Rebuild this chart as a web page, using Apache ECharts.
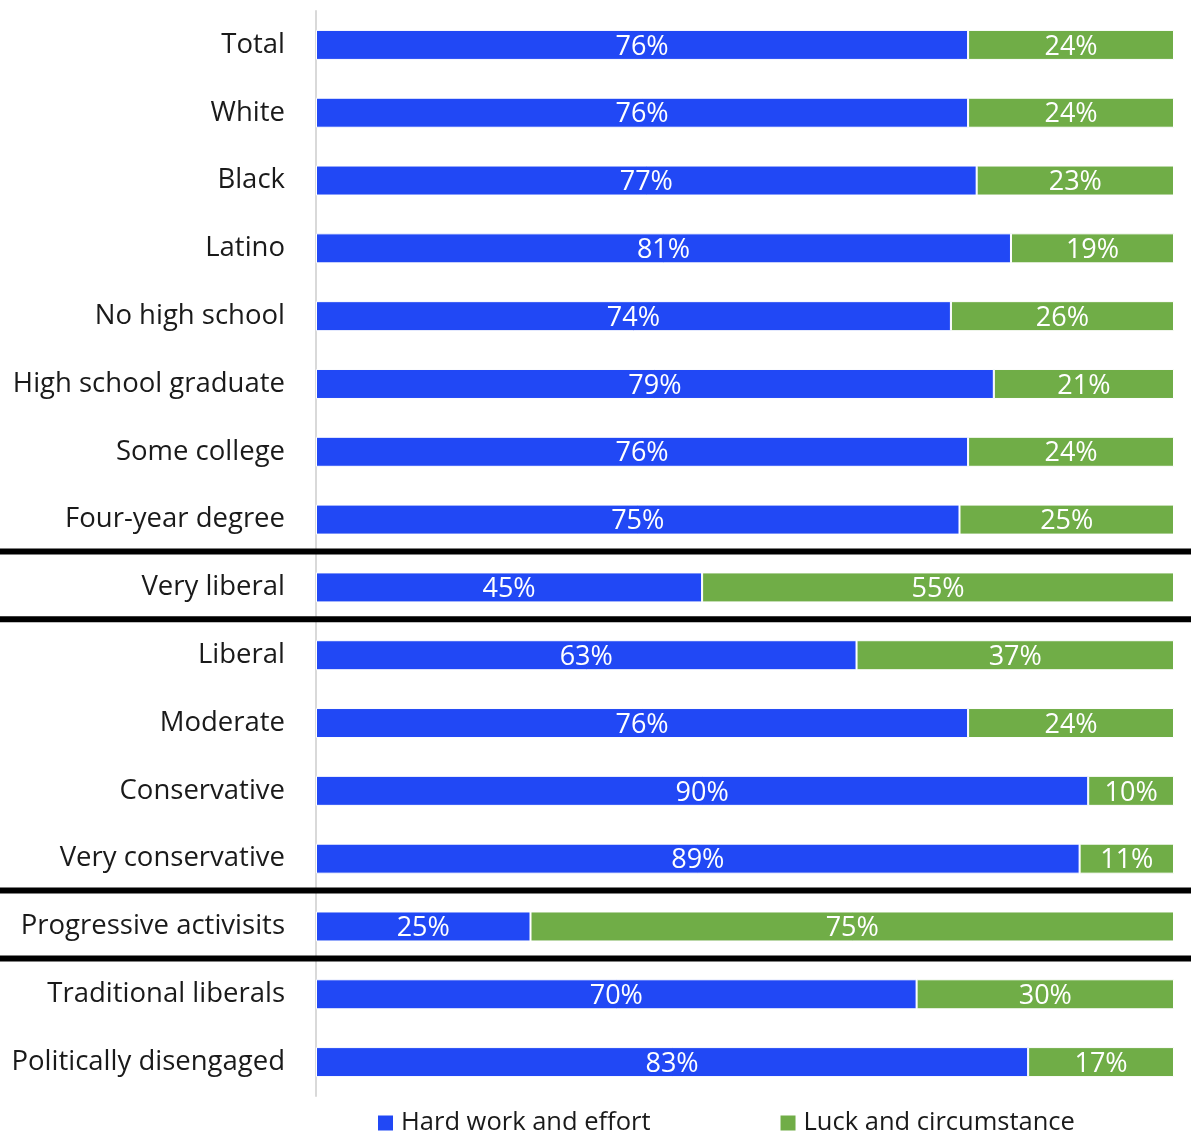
<!DOCTYPE html>
<html><head><meta charset="utf-8">
<script src="https://cdn.jsdelivr.net/npm/echarts@6/dist/echarts.min.js"></script>
<style>html,body{margin:0;padding:0;background:#fff}#c{width:1191px;height:1139px}</style>
</head><body><div id="c"></div>
<script>
const categories = ["Total","White","Black","Latino","No high school","High school graduate","Some college","Four-year degree","Very liberal","Liberal","Moderate","Conservative","Very conservative","Progressive activisits","Traditional liberals","Politically disengaged"];
const hardWork = [76,76,77,81,74,79,76,75,45,63,76,90,89,25,70,83];
const luck = [24,24,23,19,26,21,24,25,55,37,24,10,11,75,30,17];
const seriesNames = ["Hard work and effort","Luck and circumstance"];
const separatorsAfter = [7,8,12,13];

const FONT = "Open Sans";
const chart = echarts.init(document.getElementById('c'));
const lbl = {show:true, position:'inside', color:'#fff', fontFamily:FONT, fontSize:27, offset:[0,2], formatter:p=>p.value+'%'};
chart.setOption({
  animation:false,
  textStyle:{fontFamily:FONT},
  grid:{left:316, right:17, top:11, bottom:43, containLabel:false},
  xAxis:{type:'value', min:0, max:100, show:false},
  yAxis:{type:'category', data:categories, inverse:true,
    axisLine:{show:true, lineStyle:{color:'#D9D9D9', width:2}},
    axisTick:{show:false},
    axisLabel:{color:'#1a1a1a', fontSize:27.5, fontFamily:FONT, margin:31}},
  legend:{bottom:3, left:376, padding:0, itemWidth:17, itemHeight:17, itemGap:128, icon:'rect',
    textStyle:{fontSize:25.5, color:'#1a1a1a', fontFamily:FONT, padding:[0,0,0,2]}},
  series:[
    {name:seriesNames[0], type:'bar', stack:'a', data:hardWork, barWidth:30,
     itemStyle:{color:'#2148F5', borderColor:'#ffffff', borderWidth:1}, label:lbl},
    {name:seriesNames[1], type:'bar', stack:'a', data:luck, barWidth:30,
     itemStyle:{color:'#70AD47', borderColor:'#ffffff', borderWidth:1}, label:lbl}
  ]
});
const g = [];
separatorsAfter.forEach(i=>{
  const y1 = chart.convertToPixel({yAxisIndex:0}, categories[i]);
  const y2 = chart.convertToPixel({yAxisIndex:0}, categories[i+1]);
  const y = (y1+y2)/2 - 2;
  g.push({type:'line', shape:{x1:0,y1:y,x2:1191,y2:y}, style:{stroke:'#000', lineWidth:6}, z:100});
});
chart.setOption({graphic:g});
</script></body></html>
